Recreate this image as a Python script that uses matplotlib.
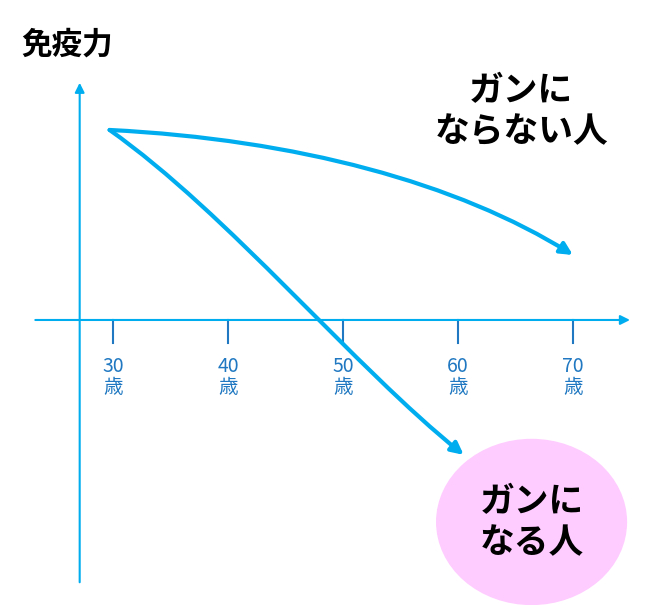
import matplotlib
matplotlib.use("Agg")
import matplotlib.pyplot as plt
from matplotlib.patches import Ellipse, FancyArrowPatch
from matplotlib.path import Path

plt.rcParams['font.family'] = ['Noto Sans CJK JP', 'DejaVu Sans']

ages = [30, 40, 50, 60, 70]
tick_labels = ["30\n歳", "40\n歳", "50\n歳", "60\n歳", "70\n歳"]
# curve start, two bezier control points, end (age, immunity)
healthy_age = [29.7, 46.0, 60.0, 70.0]
healthy_imm = [100, 95.0, 72.0, 34.2]
cancer_age = [29.7, 40.0, 51.0, 60.5]
cancer_imm = [100, 56.0, -25.0, -71.0]

blue = "#00aeef"
lblue = "#1f78c1"

fig = plt.figure(figsize=(6.5, 6.05), dpi=100)
ax = fig.add_axes([0, 0, 1, 1])
ax.set_xlim(20.17, 76.7)
ax.set_ylim(-150, 168.4)
ax.axis("off")

arr = dict(arrowstyle="-|>", color=blue, lw=1.5, mutation_scale=14)
ax.annotate("", xy=(75.2, 0), xytext=(23.0, 0), arrowprops=arr)
ax.annotate("", xy=(27.1, 126.3), xytext=(27.1, -139.5), arrowprops=arr)
for a, t in zip(ages, tick_labels):
    ax.plot([a, a], [0, -12], color=lblue, lw=1.5)
    ax.text(a, -30, t, ha="center", va="center", color=lblue, fontsize=14, linespacing=1.05)

ell = Ellipse((66.4, -106.3), 16.5, 86.8, color="#ffccff", zorder=1)
ax.add_patch(ell)

codes = [Path.MOVETO, Path.CURVE4, Path.CURVE4, Path.CURVE4]
for xs, ys in [(healthy_age, healthy_imm), (cancer_age, cancer_imm)]:
    p = Path(list(zip(xs, ys)), codes)
    fa = FancyArrowPatch(path=p, arrowstyle="-|>", color=blue, lw=3,
                         mutation_scale=18, zorder=3, transform=ax.transData)
    ax.add_patch(fa)

ax.text(22.0, 145, "免疫力", ha="left", va="center", fontsize=22, fontweight="bold")
ax.text(65.5, 110, "ガンに\nならない人", ha="center", va="center", fontsize=25,
        fontweight="bold", linespacing=1.2)
ax.text(66.4, -106.3, "ガンに\nなる人", ha="center", va="center", fontsize=25,
        fontweight="bold", linespacing=1.2, zorder=4)

fig.savefig("out.png", dpi=100)
